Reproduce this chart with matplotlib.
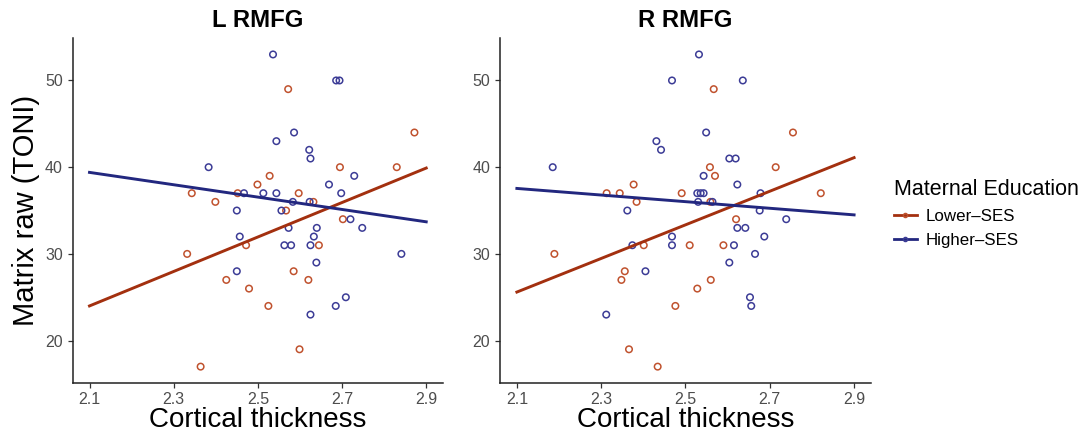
import numpy as np
import matplotlib
matplotlib.use('Agg')
import matplotlib.pyplot as plt
from matplotlib.lines import Line2D

plt.rcParams['font.family'] = ['Liberation Sans', 'DejaVu Sans']

### DATA
# L RMFG
l_low_x = [2.572, 2.872, 2.695, 2.830, 2.528, 2.499, 2.343, 2.452, 2.597, 2.399,
           2.632, 2.567, 2.702, 2.332, 2.472, 2.645, 2.585, 2.425, 2.620, 2.479,
           2.525, 2.599, 2.364]
l_low_y = [49, 44, 40, 40, 39, 38, 37, 37, 37, 36,
           36, 35, 34, 30, 31, 31, 28, 27, 27, 26,
           24, 19, 17]
l_high_x = [2.536, 2.686, 2.694, 2.586, 2.544, 2.622, 2.625, 2.383, 2.729, 2.669,
            2.467, 2.513, 2.544, 2.698, 2.583, 2.623, 2.450, 2.556, 2.720, 2.573,
            2.640, 2.748, 2.457, 2.633, 2.563, 2.579, 2.625, 2.841, 2.639, 2.450,
            2.709, 2.685, 2.625]
l_high_y = [53, 50, 50, 44, 43, 42, 41, 40, 39, 38,
            37, 37, 37, 37, 36, 36, 35, 35, 34, 33,
            33, 33, 32, 32, 31, 31, 31, 30, 29, 28,
            25, 24, 23]
# R RMFG
r_low_x = [2.189, 2.313, 2.344, 2.377, 2.384, 2.348, 2.356, 2.366, 2.401, 2.434,
           2.476, 2.491, 2.510, 2.528, 2.558, 2.570, 2.567, 2.559, 2.560, 2.590,
           2.620, 2.714, 2.755, 2.821]
r_low_y = [30, 37, 37, 38, 36, 27, 28, 19, 31, 17,
           24, 37, 31, 26, 40, 39, 49, 36, 27, 31,
           34, 40, 44, 37]
r_high_x = [2.185, 2.312, 2.374, 2.362, 2.405, 2.431, 2.442, 2.468, 2.468, 2.468,
            2.532, 2.549, 2.543, 2.528, 2.536, 2.543, 2.530, 2.564, 2.604, 2.619,
            2.623, 2.636, 2.678, 2.676, 2.623, 2.642, 2.615, 2.604, 2.665, 2.687,
            2.653, 2.656, 2.739]
r_high_y = [40, 23, 31, 35, 28, 43, 42, 50, 32, 31,
            53, 44, 39, 37, 37, 37, 36, 36, 41, 41,
            38, 50, 37, 35, 33, 33, 31, 29, 30, 32,
            25, 24, 34]

# fitted lines (endpoints at x = 2.1 and 2.9)
fit_x = [2.1, 2.9]
l_low_fit = [24.0, 39.9]
l_high_fit = [39.4, 33.7]
r_low_fit = [25.6, 41.1]
r_high_fit = [37.55, 34.5]

xticks = [2.1, 2.3, 2.5, 2.7, 2.9]
yticks = [20, 30, 40, 50]

red_pt = '#C0522E'
blue_pt = '#3C3C96'
red_ln = '#A3300F'
blue_ln = '#22277F'
tick_col = '#4D4D4D'

fig = plt.figure(figsize=(10.83, 4.38), dpi=100)
ax1 = fig.add_axes([0.0671, 0.1263, 0.3420, 0.7870])
ax2 = fig.add_axes([0.4617, 0.1263, 0.3425, 0.7870])

panels = [
    (ax1, 'L RMFG', l_low_x, l_low_y, l_high_x, l_high_y, l_low_fit, l_high_fit),
    (ax2, 'R RMFG', r_low_x, r_low_y, r_high_x, r_high_y, r_low_fit, r_high_fit),
]

for ax, title, lx, ly, hx, hy, lfit, hfit in panels:
    ax.scatter(lx, ly, s=22, facecolors='none', edgecolors=red_pt, linewidths=1.1, zorder=2)
    ax.scatter(hx, hy, s=22, facecolors='none', edgecolors=blue_pt, linewidths=1.1, zorder=2)
    ax.plot(fit_x, lfit, color=red_ln, lw=2.1, zorder=3)
    ax.plot(fit_x, hfit, color=blue_ln, lw=2.1, zorder=3)
    ax.set_xlim(2.06, 2.94)
    ax.set_ylim(15.15, 54.9)
    ax.set_xticks(xticks)
    ax.set_xticklabels([str(t) for t in xticks])
    ax.set_yticks(yticks)
    ax.tick_params(colors=tick_col, labelsize=11.5, length=3.5, width=0.9)
    ax.tick_params(axis='both', color='#333333')
    for s in ['top', 'right']:
        ax.spines[s].set_visible(False)
    for s in ['left', 'bottom']:
        ax.spines[s].set_linewidth(1.1)
        ax.spines[s].set_color('#222222')
    ax.set_title(title, fontsize=17.2, fontweight='bold', pad=8)
    ax.set_xlabel('Cortical thickness', fontsize=20, labelpad=0)

ax1.set_ylabel('Matrix raw (TONI)', fontsize=21, labelpad=4)

handles = [
    Line2D([0], [0], color=red_ln, lw=2, marker='o', markersize=3,
           markerfacecolor='none', markeredgecolor=red_pt),
    Line2D([0], [0], color=blue_ln, lw=2, marker='o', markersize=3,
           markerfacecolor='none', markeredgecolor=blue_pt),
]
fig.legend(handles, ['Lower\u2013SES', 'Higher\u2013SES'], title='Maternal Education',
           loc='upper left', bbox_to_anchor=(0.811, 0.627), frameon=False,
           fontsize=12.2, title_fontsize=15.5, handlelength=1.4,
           handletextpad=0.5, labelspacing=0.55, alignment='left')

fig.savefig('out.png', dpi=100)
